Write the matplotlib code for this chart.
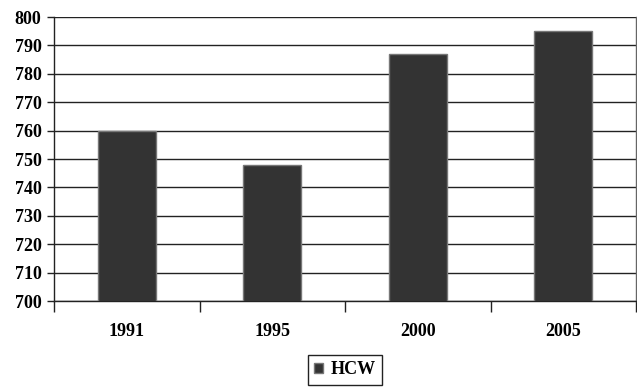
import matplotlib
matplotlib.use("Agg")
import matplotlib.pyplot as plt
from matplotlib.ticker import MultipleLocator, FixedLocator

years = ["1991", "1995", "2000", "2005"]
hcw = [760, 748, 787, 795]

plt.rcParams["font.family"] = ["Liberation Serif", "DejaVu Serif"]
plt.rcParams["font.weight"] = "bold"

fig = plt.figure(figsize=(6.37, 3.87), dpi=100)
ax = fig.add_axes([54 / 637, 1 - 301 / 387, 582 / 637, 284 / 387])

x = range(len(years))
ax.bar(x, hcw, width=0.4, bottom=0, color="#333333", edgecolor="#777777",
       linewidth=1.0, zorder=3, label="HCW")

ax.set_xlim(-0.5, len(years) - 0.5)
ax.set_ylim(700, 800)
ax.yaxis.set_major_locator(MultipleLocator(10))
ax.grid(axis="y", color="#222222", linewidth=1.0, zorder=0)

ax.set_xticks(list(x))
ax.set_xticklabels(years, fontsize=13, fontweight="bold")
ax.xaxis.set_minor_locator(FixedLocator([i - 0.5 for i in range(len(years) + 1)]))
ax.tick_params(axis="x", which="major", length=0, pad=16)
ax.tick_params(axis="x", which="minor", length=8, width=1, color="#222222")
ax.tick_params(axis="y", length=5, width=1, color="#222222", labelsize=13, pad=4)
for lab in ax.get_yticklabels():
    lab.set_fontweight("bold")

for side in ["left", "bottom", "right"]:
    ax.spines[side].set_color("#222222")
    ax.spines[side].set_linewidth(1.0)
ax.spines["right"].set_color("#666666")
ax.spines["top"].set_visible(False)

leg = fig.legend(loc="center", bbox_to_anchor=(345 / 637, 1 - 370 / 387),
                 handlelength=0.5, handleheight=0.5, handletextpad=0.4,
                 fancybox=False, framealpha=1, edgecolor="#222222",
                 borderpad=0.35, prop={"size": 13, "weight": "bold"})
leg.get_frame().set_linewidth(1.0)

fig.savefig("out.png", dpi=100)
